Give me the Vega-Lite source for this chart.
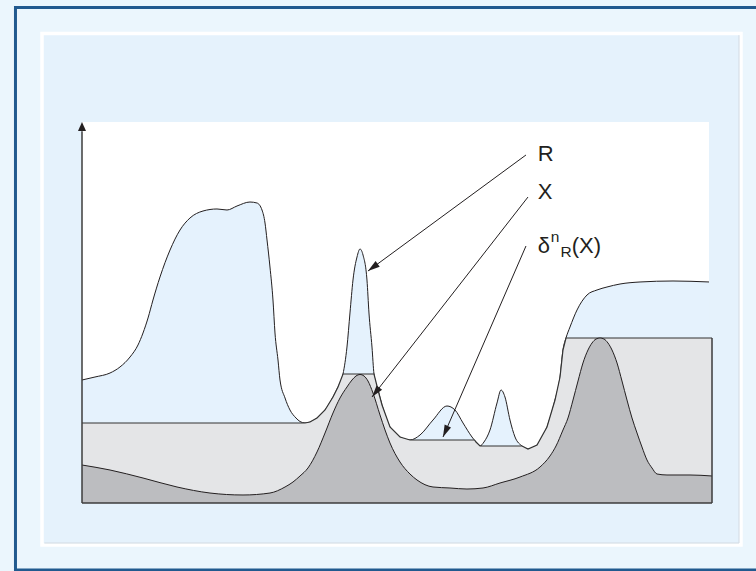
{
  "$schema": "https://vega.github.io/schema/vega-lite/v6.json",
  "width": 627,
  "height": 381,
  "autosize": {"type": "none"},
  "padding": {"left": 82, "top": 122, "right": 47, "bottom": 68},
  "background": "#ebf6fd",
  "config": {"view": {"stroke": null}},
  "datasets": {
    "outer": [{"x": -10.61, "x2": 108.6, "y": -17.59, "y2": 130.05}],
    "inner": [{"x": -6.38, "x2": 105.1, "y": -11.02, "y2": 123.23}],
    "shadow": [{"x": 104.78, "x2": 104.78, "y": -10.5, "y2": 122.8}, {"x": -6.0, "x2": 104.78, "y": -10.5, "y2": -10.5}],
    "plot": [{"x": 0, "x2": 100, "y": 0, "y2": 100}],
    "R": [
      {"x": 0, "y": 32.28}, {"x": 2.07, "y": 33.07}, {"x": 4.47, "y": 34.12}, {"x": 6.06, "y": 35.7},
      {"x": 7.66, "y": 38.32}, {"x": 8.93, "y": 41.47}, {"x": 9.73, "y": 44.62}, {"x": 10.53, "y": 48.56},
      {"x": 11.32, "y": 53.28}, {"x": 12.44, "y": 59.32}, {"x": 14.04, "y": 66.4}, {"x": 15.63, "y": 71.65},
      {"x": 17.22, "y": 74.8}, {"x": 19.3, "y": 76.64}, {"x": 21.53, "y": 77.17}, {"x": 23.13, "y": 76.9},
      {"x": 24.72, "y": 77.95}, {"x": 26.79, "y": 79.0}, {"x": 27.91, "y": 78.74}, {"x": 28.71, "y": 76.9},
      {"x": 29.19, "y": 73.49}, {"x": 29.51, "y": 69.03}, {"x": 29.98, "y": 61.94}, {"x": 30.46, "y": 53.28},
      {"x": 30.78, "y": 44.62}, {"x": 31.26, "y": 37.53}, {"x": 31.58, "y": 32.28}, {"x": 32.38, "y": 27.56},
      {"x": 33.17, "y": 24.41}, {"x": 34.13, "y": 22.31}, {"x": 34.77, "y": 21.39}, {"x": 35.57, "y": 21.0},
      {"x": 36.36, "y": 21.26}, {"x": 37.48, "y": 22.31}, {"x": 38.76, "y": 24.41}, {"x": 40.03, "y": 27.82},
      {"x": 40.83, "y": 30.45}, {"x": 41.63, "y": 33.86}, {"x": 42.26, "y": 40.94}, {"x": 42.74, "y": 49.87},
      {"x": 43.22, "y": 58.53}, {"x": 43.86, "y": 64.57}, {"x": 44.34, "y": 66.67}, {"x": 44.82, "y": 65.09},
      {"x": 45.45, "y": 58.53}, {"x": 45.77, "y": 49.87}, {"x": 46.25, "y": 40.94}, {"x": 46.57, "y": 33.86},
      {"x": 47.21, "y": 29.66}, {"x": 47.85, "y": 25.72}, {"x": 49.12, "y": 19.95}, {"x": 50.72, "y": 17.32},
      {"x": 52.31, "y": 16.54}, {"x": 53.91, "y": 17.85}, {"x": 55.98, "y": 21.78}, {"x": 58.21, "y": 25.46},
      {"x": 59.49, "y": 24.41}, {"x": 60.77, "y": 21.0}, {"x": 62.2, "y": 17.32}, {"x": 62.84, "y": 16.01},
      {"x": 63.48, "y": 14.96}, {"x": 64.11, "y": 16.01}, {"x": 65.07, "y": 19.16}, {"x": 66.19, "y": 26.25},
      {"x": 66.83, "y": 29.66}, {"x": 67.46, "y": 27.82}, {"x": 68.26, "y": 21.78}, {"x": 69.06, "y": 17.32},
      {"x": 70.18, "y": 14.96}, {"x": 71.13, "y": 14.17}, {"x": 72.57, "y": 15.22}, {"x": 74.16, "y": 19.95},
      {"x": 75.44, "y": 27.03}, {"x": 76.24, "y": 33.07}, {"x": 76.71, "y": 40.16}, {"x": 77.19, "y": 43.31},
      {"x": 77.83, "y": 46.19}, {"x": 78.95, "y": 50.66}, {"x": 80.54, "y": 54.59}, {"x": 82.14, "y": 55.91},
      {"x": 83.73, "y": 56.69}, {"x": 85.81, "y": 57.48}, {"x": 89.0, "y": 58.01}, {"x": 94.26, "y": 58.27},
      {"x": 100, "y": 58.01}
    ],
    "T": [
      {"x": 0, "y": 21.0}, {"x": 35.57, "y": 21.0}, {"x": 36.36, "y": 21.26}, {"x": 37.48, "y": 22.31},
      {"x": 38.76, "y": 24.41}, {"x": 40.03, "y": 27.82}, {"x": 40.83, "y": 30.45}, {"x": 41.63, "y": 33.86},
      {"x": 46.57, "y": 33.86}, {"x": 47.21, "y": 29.66}, {"x": 47.85, "y": 25.72}, {"x": 49.12, "y": 19.95},
      {"x": 50.72, "y": 17.32}, {"x": 52.31, "y": 16.54}, {"x": 62.6, "y": 16.54}, {"x": 62.84, "y": 16.01},
      {"x": 63.48, "y": 14.96}, {"x": 70.18, "y": 14.96}, {"x": 71.13, "y": 14.17}, {"x": 72.57, "y": 15.22},
      {"x": 74.16, "y": 19.95}, {"x": 75.44, "y": 27.03}, {"x": 76.24, "y": 33.07}, {"x": 76.71, "y": 40.16},
      {"x": 77.19, "y": 43.31}, {"x": 100.48, "y": 43.31}
    ],
    "X": [
      {"x": 0, "y": 9.97}, {"x": 4.47, "y": 8.66}, {"x": 9.73, "y": 6.56}, {"x": 15.15, "y": 4.2},
      {"x": 20.41, "y": 2.62}, {"x": 25.68, "y": 2.1}, {"x": 29.98, "y": 2.62}, {"x": 32.38, "y": 4.2},
      {"x": 33.65, "y": 5.51}, {"x": 34.77, "y": 7.09}, {"x": 36.04, "y": 9.19}, {"x": 37.48, "y": 13.39},
      {"x": 38.76, "y": 18.37}, {"x": 40.03, "y": 23.62}, {"x": 41.15, "y": 27.56}, {"x": 42.26, "y": 30.45},
      {"x": 43.06, "y": 32.28}, {"x": 43.7, "y": 33.33}, {"x": 44.34, "y": 33.73}, {"x": 44.98, "y": 33.33},
      {"x": 45.61, "y": 32.02}, {"x": 46.41, "y": 28.87}, {"x": 47.53, "y": 23.1}, {"x": 48.33, "y": 19.16},
      {"x": 49.12, "y": 15.75}, {"x": 50.72, "y": 10.76}, {"x": 52.31, "y": 7.61}, {"x": 53.43, "y": 6.04},
      {"x": 55.98, "y": 4.2}, {"x": 58.69, "y": 3.94}, {"x": 61.4, "y": 3.67}, {"x": 63.96, "y": 3.94},
      {"x": 66.67, "y": 5.25}, {"x": 69.86, "y": 6.82}, {"x": 73.05, "y": 9.45}, {"x": 74.64, "y": 12.34},
      {"x": 75.6, "y": 14.96}, {"x": 76.71, "y": 19.16}, {"x": 77.51, "y": 22.31}, {"x": 78.31, "y": 27.03},
      {"x": 79.11, "y": 32.02}, {"x": 79.9, "y": 36.75}, {"x": 80.7, "y": 40.16}, {"x": 81.34, "y": 41.99},
      {"x": 81.98, "y": 43.04}, {"x": 82.62, "y": 43.31}, {"x": 83.25, "y": 43.04}, {"x": 83.89, "y": 41.99},
      {"x": 84.53, "y": 40.16}, {"x": 85.33, "y": 36.75}, {"x": 86.12, "y": 32.02}, {"x": 86.92, "y": 27.03},
      {"x": 87.72, "y": 22.31}, {"x": 88.52, "y": 18.37}, {"x": 89.31, "y": 14.7}, {"x": 90.11, "y": 11.29},
      {"x": 90.91, "y": 9.19}, {"x": 91.71, "y": 7.61}, {"x": 93.3, "y": 7.35}, {"x": 96.97, "y": 7.35},
      {"x": 100.48, "y": 7.09}
    ],
    "axes": [
      {"x": 0, "x2": 0, "y": 0, "y2": 97.6},
      {"x": 0, "x2": 100.48, "y": 0, "y2": 0},
      {"x": 100.48, "x2": 100.48, "y": 0, "y2": 43.31}
    ],
    "arrows": [
      {"x": 70.81, "y": 91.34, "x2": 45.61, "y2": 60.89},
      {"x": 71.13, "y": 80.31, "x2": 46.25, "y2": 27.82},
      {"x": 70.81, "y": 67.45, "x2": 57.58, "y2": 17.32}
    ],
    "tipR": [{"x": 45.61, "y": 60.89}],
    "tipX": [{"x": 46.25, "y": 27.82}],
    "tipD": [{"x": 57.58, "y": 17.32}],
    "tipY": [{"x": 0, "y": 100}],
    "labelsBig": [
      {"t": "R", "x": 72.7, "y": 89.84},
      {"t": "X", "x": 72.7, "y": 79.71},
      {"t": "δ", "x": 72.7, "y": 65.7},
      {"t": "(X)", "x": 78.1, "y": 65.7}
    ],
    "labelsSmall": [
      {"t": "n", "x": 74.75, "y": 68.5},
      {"t": "R", "x": 76.3, "y": 64.49}
    ]
  },
  "encoding": {
    "x": {"field": "x", "type": "quantitative", "scale": {"domain": [0, 100], "nice": false, "zero": false}, "axis": null},
    "y": {"field": "y", "type": "quantitative", "scale": {"domain": [0, 100], "nice": false, "zero": false}, "axis": null, "stack": null}
  },
  "layer": [
    {
      "data": {"name": "inner"},
      "mark": {"type": "rect", "fill": "#e5f2fc", "stroke": "#ffffff", "strokeWidth": 3.5},
      "encoding": {"x2": {"field": "x2"}, "y2": {"field": "y2"}}
    },
    {
      "data": {"name": "shadow"},
      "mark": {"type": "rule", "color": "#d3dbe2", "strokeWidth": 1},
      "encoding": {"x2": {"field": "x2"}, "y2": {"field": "y2"}}
    },
    {
      "data": {"name": "outer"},
      "mark": {"type": "rect", "fillOpacity": 0, "stroke": "#215a8f", "strokeWidth": 3},
      "encoding": {"x2": {"field": "x2"}, "y2": {"field": "y2"}}
    },
    {
      "data": {"name": "plot"},
      "mark": {"type": "rect", "fill": "#ffffff", "strokeWidth": 0},
      "encoding": {"x2": {"field": "x2"}, "y2": {"field": "y2"}}
    },
    {
      "data": {"name": "R"},
      "mark": {"type": "area", "interpolate": "monotone", "color": "#e5f2fd", "opacity": 1, "line": {"color": "#231f20", "strokeWidth": 1}},
      "encoding": {}
    },
    {
      "data": {"name": "T"},
      "mark": {"type": "area", "interpolate": "linear", "color": "#e4e5e7", "opacity": 1, "line": {"color": "#333333", "strokeWidth": 1.2}},
      "encoding": {}
    },
    {
      "data": {"name": "X"},
      "mark": {"type": "area", "interpolate": "monotone", "color": "#bcbdc0", "opacity": 1, "line": {"color": "#231f20", "strokeWidth": 1}},
      "encoding": {}
    },
    {
      "data": {"name": "axes"},
      "mark": {"type": "rule", "color": "#3c3c3c", "strokeWidth": 1.5},
      "encoding": {"x2": {"field": "x2"}, "y2": {"field": "y2"}}
    },
    {
      "data": {"name": "arrows"},
      "mark": {"type": "rule", "color": "#231f20", "strokeWidth": 1},
      "encoding": {"x2": {"field": "x2"}, "y2": {"field": "y2"}}
    },
    {
      "data": {"name": "tipR"},
      "mark": {"type": "point", "shape": "M0,0L-0.7,2.4L0.7,2.4Z", "size": 100, "filled": true, "color": "#231f20", "opacity": 1, "strokeWidth": 0, "angle": 233.7},
      "encoding": {}
    },
    {
      "data": {"name": "tipX"},
      "mark": {"type": "point", "shape": "M0,0L-0.7,2.4L0.7,2.4Z", "size": 100, "filled": true, "color": "#231f20", "opacity": 1, "strokeWidth": 0, "angle": 217.9},
      "encoding": {}
    },
    {
      "data": {"name": "tipD"},
      "mark": {"type": "point", "shape": "M0,0L-0.7,2.4L0.7,2.4Z", "size": 100, "filled": true, "color": "#231f20", "opacity": 1, "strokeWidth": 0, "angle": 203.5},
      "encoding": {}
    },
    {
      "data": {"name": "tipY"},
      "mark": {"type": "point", "shape": "M0,0L-0.8,1.8L0.8,1.8Z", "size": 100, "filled": true, "color": "#231f20", "opacity": 1, "strokeWidth": 0},
      "encoding": {}
    },
    {
      "data": {"name": "labelsBig"},
      "mark": {"type": "text", "font": "Liberation Sans", "fontSize": 22, "align": "left", "baseline": "alphabetic", "color": "#231f20"},
      "encoding": {"text": {"field": "t"}}
    },
    {
      "data": {"name": "labelsSmall"},
      "mark": {"type": "text", "font": "Liberation Sans", "fontSize": 15.5, "align": "left", "baseline": "alphabetic", "color": "#231f20"},
      "encoding": {"text": {"field": "t"}}
    }
  ]
}
